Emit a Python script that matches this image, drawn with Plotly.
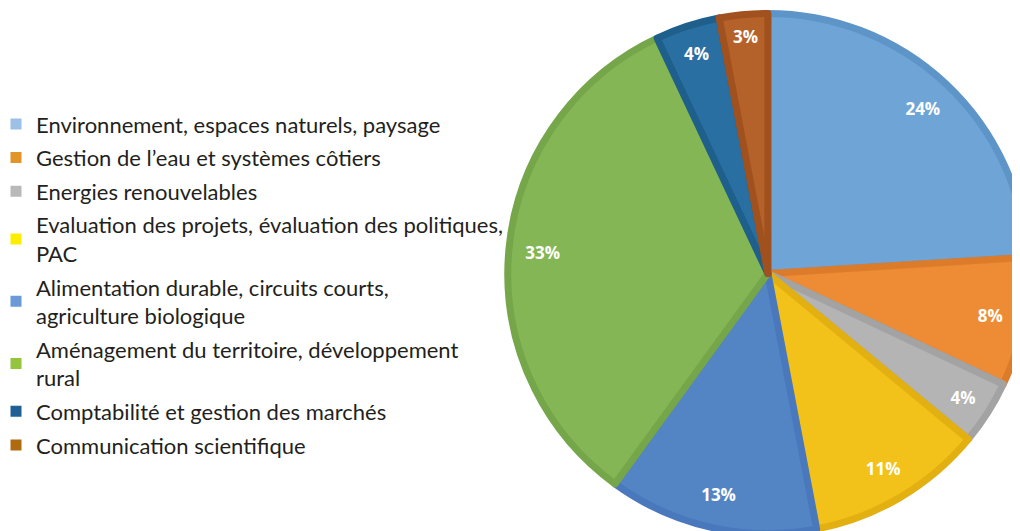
import plotly.graph_objects as go

categories = [
    "Environnement, espaces naturels, paysage",
    "Gestion de l’eau et systèmes côtiers",
    "Energies renouvelables",
    "Evaluation des projets, évaluation des politiques,<br>PAC",
    "Alimentation durable, circuits courts,<br>agriculture biologique",
    "Aménagement du territoire, développement<br>rural",
    "Comptabilité et gestion des marchés",
    "Communication scientifique",
]
values = [24, 8, 4, 11, 13, 33, 4, 3]
slice_colors = ["#6FA5D6", "#ED8C35", "#B4B4B4", "#F2C11A", "#5385C5", "#85B655", "#296FA2", "#B5612A"]
border_colors = ["#5E95C8", "#DC7C2A", "#A3A3A3", "#E2B010", "#4A78BD", "#76A64A", "#1F5F8B", "#A0511E"]
legend_colors = ["#9DC0E6", "#E09526", "#B9B9B9", "#FFED00", "#6A9AD8", "#95C43D", "#1F5F95", "#B06A10"]

fig = go.Figure()

pie_domain = dict(x=[0.49, 1.0], y=[0.0, 1.0])

# filled slices
fig.add_trace(go.Pie(
    labels=categories,
    values=values,
    sort=False,
    direction="clockwise",
    rotation=0,
    marker=dict(colors=slice_colors, line=dict(color=border_colors, width=7)),
    textinfo="none",
    domain=pie_domain,
    showlegend=False,
    hoverinfo="label+percent",
))

# transparent ring carrying the percentage labels near the outer edge
fig.add_trace(go.Pie(
    labels=categories,
    values=values,
    sort=False,
    direction="clockwise",
    rotation=0,
    hole=0.74,
    marker=dict(colors=["rgba(0,0,0,0)"] * len(values), line=dict(width=0)),
    texttemplate="%{percent:.0%}",
    textposition="inside",
    insidetextorientation="horizontal",
    textfont=dict(family="Open Sans", size=17, color="white", weight="bold"),
    domain=pie_domain,
    showlegend=False,
    hoverinfo="skip",
))

for i, (name, col) in enumerate(zip(categories, legend_colors)):
    fig.add_trace(go.Scatter(
        x=[None], y=[None], mode="markers", name=name,
        legendgroup=f"g{i}",
        marker=dict(symbol="square", size=11, color=col),
    ))

fig.update_layout(
    width=1020, height=531,
    margin=dict(l=0, r=0, t=0, b=0),
    paper_bgcolor="white", plot_bgcolor="white",
    xaxis=dict(visible=False, domain=[0, 0.01]),
    yaxis=dict(visible=False),
    legend=dict(
        x=0.0, y=0.479, xanchor="left", yanchor="middle",
        font=dict(family="Lato", size=22, color="#231F20"),
        itemwidth=30, tracegroupgap=2, indentation=-12,
        bgcolor="rgba(0,0,0,0)",
    ),
)

fig.write_html("out.html")
